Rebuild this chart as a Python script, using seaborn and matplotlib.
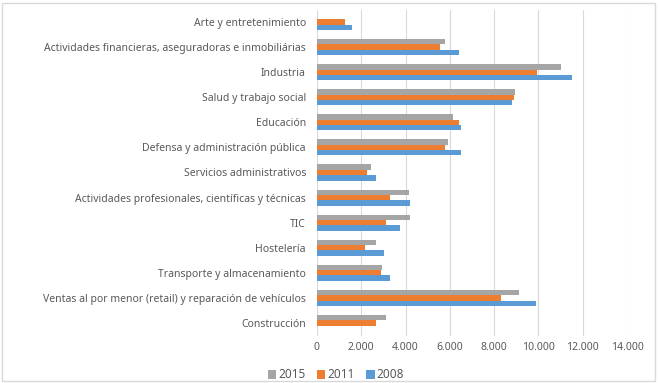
import matplotlib
matplotlib.use("Agg")
import matplotlib.pyplot as plt
import matplotlib.ticker as mticker
from matplotlib.patches import Rectangle
import seaborn as sns
import pandas as pd

categories = [
    "Arte y entretenimiento",
    "Actividades financieras, aseguradoras e inmobiliárias",
    "Industria",
    "Salud y trabajo social",
    "Educación",
    "Defensa y administración pública",
    "Servicios administrativos",
    "Actividades profesionales, científicas y técnicas",
    "TIC",
    "Hostelería",
    "Transporte y almacenamiento",
    "Ventas al por menor (retail) y reparación de vehículos",
    "Construcción",
]
years = ["2015", "2011", "2008"]
v2015 = [0, 5760, 11010, 8935, 6135, 5910, 2430, 4150, 4190, 2680, 2950, 9130, 3130]
v2011 = [1280, 5570, 9950, 8890, 6400, 5760, 2240, 3280, 3130, 2160, 2890, 8290, 2680]
v2008 = [1580, 6420, 11510, 8820, 6510, 6510, 2680, 4190, 3740, 3040, 3290, 9900, 0]
colors = ["#A5A5A5", "#ED7D31", "#5B9BD5"]

rows = []
for yr, vals in zip(years, [v2015, v2011, v2008]):
    for c, v in zip(categories, vals):
        rows.append({"cat": c, "year": yr, "value": v})
df = pd.DataFrame(rows)

sns.set_theme(style="white")
plt.rcParams["font.family"] = ["Noto Sans", "DejaVu Sans"]
txt = "#595959"

fig = plt.figure(figsize=(6.58, 3.83), dpi=100)
ax = fig.add_axes([317 / 658, 1 - 335.5 / 383, 310 / 658, 326 / 383])

sns.barplot(data=df, y="cat", x="value", hue="year", hue_order=years,
            order=categories, palette=colors, orient="h", width=0.64,
            saturation=1, linewidth=0, ax=ax, legend=True)

ax.set_xlim(0, 14000)
ax.xaxis.set_major_locator(mticker.MultipleLocator(2000))
ax.xaxis.set_major_formatter(mticker.FuncFormatter(
    lambda x, p: "0" if x == 0 else f"{int(x):,}".replace(",", ".")))
ax.grid(axis="x", color="#D9D9D9", linewidth=0.8)
ax.set_axisbelow(True)
for s in ax.spines.values():
    s.set_visible(False)
ax.set_xlabel("")
ax.set_ylabel("")
ax.tick_params(axis="both", length=0, labelsize=7.5, colors=txt)
ax.tick_params(axis="y", pad=8)
ax.tick_params(axis="x", pad=5)

handles, labels = ax.get_legend_handles_labels()
ax.get_legend().remove()
fig.legend(handles, labels, loc="center", bbox_to_anchor=(336 / 658, 1 - 375 / 383),
           ncol=3, frameon=False, fontsize=8.5, labelcolor=txt,
           handlelength=0.7, handleheight=0.7, handletextpad=0.15,
           columnspacing=1.0)

fig.patches.append(Rectangle((2 / 658, 2 / 383), 1 - 5 / 658, 1 - 5 / 383,
                             transform=fig.transFigure, fill=False,
                             edgecolor="#D9D9D9", linewidth=1))

fig.savefig("out.png", dpi=100)
